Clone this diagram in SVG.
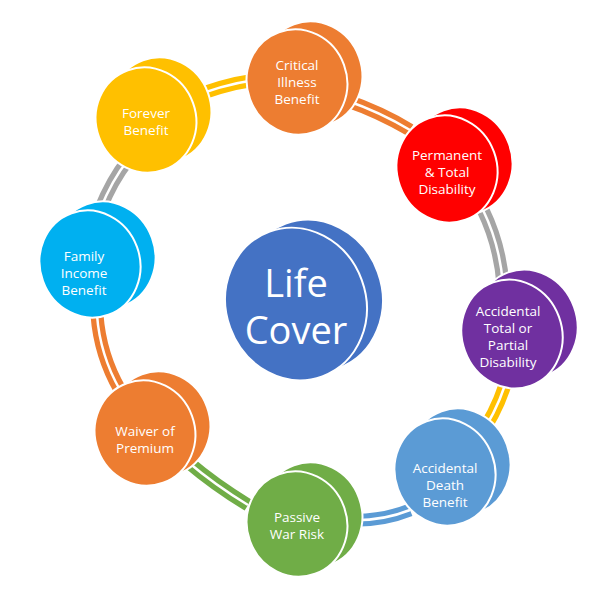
<svg xmlns="http://www.w3.org/2000/svg" width="600" height="610" viewBox="0 0 600 610">
<style>
.b{stroke:#fff;stroke-width:2}
.t{fill:#fff;font-family:"Open Sans","Liberation Sans",sans-serif;font-size:13.5px;text-anchor:middle}
.c{fill:none;stroke-width:13}
.w{fill:none;stroke:#fff;stroke-width:2.5}
</style>
<rect width="600" height="610" fill="#fff"/>
<g id="connectors">
<path class="c" stroke="#FFC000" d="M185,100 Q220,85 255,80"/>
<path class="c" stroke="#ED7D31" d="M345,100 Q380,112 410,130"/>
<path class="c" stroke="#A5A5A5" d="M483,210 Q500,245 503,285"/>
<path class="c" stroke="#FFC000" d="M505,385 Q495,415 478,438"/>
<path class="c" stroke="#5B9BD5" d="M410,510 Q380,522 345,520"/>
<path class="c" stroke="#70AD47" d="M248,505 Q215,485 188,462"/>
<path class="c" stroke="#ED7D31" d="M120,390 Q100,355 97,315"/>
<path class="c" stroke="#A5A5A5" d="M100,210 Q112,180 128,160"/>
<path class="w" d="M185,100 Q220,85 255,80"/>
<path class="w" d="M345,100 Q380,112 410,130"/>
<path class="w" d="M483,210 Q500,245 503,285"/>
<path class="w" d="M505,385 Q495,415 478,438"/>
<path class="w" d="M410,510 Q380,522 345,520"/>
<path class="w" d="M248,505 Q215,485 188,462"/>
<path class="w" d="M120,390 Q100,355 97,315"/>
<path class="w" d="M100,210 Q112,180 128,160"/>
</g>
<g id="forever" fill="#FFC000">
<ellipse class="b" cx="161" cy="110" rx="50" ry="53" transform="rotate(-20 161 110)"/>
<ellipse class="b" cx="146" cy="120" rx="50" ry="53" transform="rotate(-20 146 120)"/>
<text class="t" x="146" y="118">Forever</text><text class="t" x="146" y="135">Benefit</text>
</g>
<g id="critical" fill="#ED7D31">
<ellipse class="b" cx="312" cy="74" rx="50" ry="53" transform="rotate(-20 312 74)"/>
<ellipse class="b" cx="297" cy="82" rx="50" ry="53" transform="rotate(-20 297 82)"/>
<text class="t" x="297" y="70">Critical</text><text class="t" x="297" y="87">Illness</text><text class="t" x="297" y="104">Benefit</text>
</g>
<g id="permanent" fill="#FF0000">
<ellipse class="b" cx="462" cy="161" rx="50" ry="54" transform="rotate(-20 462 161)"/>
<ellipse class="b" cx="447" cy="169" rx="50" ry="54" transform="rotate(-20 447 169)"/>
<text class="t" x="447" y="160">Permanent</text><text class="t" x="447" y="177">&amp; Total</text><text class="t" x="447" y="194">Disability</text>
</g>
<g id="acctotal" fill="#7030A0">
<ellipse class="b" cx="527" cy="324" rx="50" ry="55" transform="rotate(-20 527 324)"/>
<ellipse class="b" cx="512" cy="334" rx="50" ry="55" transform="rotate(-20 512 334)"/>
<text class="t" x="508" y="316">Accidental</text><text class="t" x="508" y="333">Total or</text><text class="t" x="508" y="350">Partial</text><text class="t" x="508" y="367">Disability</text>
</g>
<g id="accdeath" fill="#5B9BD5">
<ellipse class="b" cx="460" cy="462" rx="50" ry="54" transform="rotate(-20 460 462)"/>
<ellipse class="b" cx="445" cy="472" rx="50" ry="54" transform="rotate(-20 445 472)"/>
<text class="t" x="445" y="473">Accidental</text><text class="t" x="445" y="490">Death</text><text class="t" x="445" y="507">Benefit</text>
</g>
<g id="passive" fill="#70AD47">
<ellipse class="b" cx="312" cy="515" rx="50" ry="53" transform="rotate(-20 312 515)"/>
<ellipse class="b" cx="297" cy="524" rx="50" ry="53" transform="rotate(-20 297 524)"/>
<text class="t" x="297" y="522">Passive</text><text class="t" x="297" y="539">War Risk</text>
</g>
<g id="waiver" fill="#ED7D31">
<ellipse class="b" cx="160" cy="424" rx="50" ry="53" transform="rotate(-20 160 424)"/>
<ellipse class="b" cx="145" cy="433" rx="50" ry="53" transform="rotate(-20 145 433)"/>
<text class="t" x="145" y="436">Waiver of</text><text class="t" x="145" y="453">Premium</text>
</g>
<g id="family" fill="#00B0F0">
<ellipse class="b" cx="105" cy="255" rx="50" ry="54" transform="rotate(-20 105 255)"/>
<ellipse class="b" cx="90" cy="264" rx="50" ry="54" transform="rotate(-20 90 264)"/>
<text class="t" x="84" y="261">Family</text><text class="t" x="84" y="278">Income</text><text class="t" x="84" y="295">Benefit</text>
</g>
<g id="life" fill="#4472C4">
<ellipse class="b" cx="312" cy="296" rx="70" ry="77" transform="rotate(-20 312 296)"/>
<ellipse class="b" cx="296" cy="304" rx="70" ry="77" transform="rotate(-20 296 304)"/>
<text x="296" y="297" fill="#fff" font-family="Open Sans, Liberation Sans, sans-serif" font-size="38" text-anchor="middle">Life</text>
<text x="296" y="344" fill="#fff" font-family="Open Sans, Liberation Sans, sans-serif" font-size="38" text-anchor="middle">Cover</text>
</g>
</svg>
